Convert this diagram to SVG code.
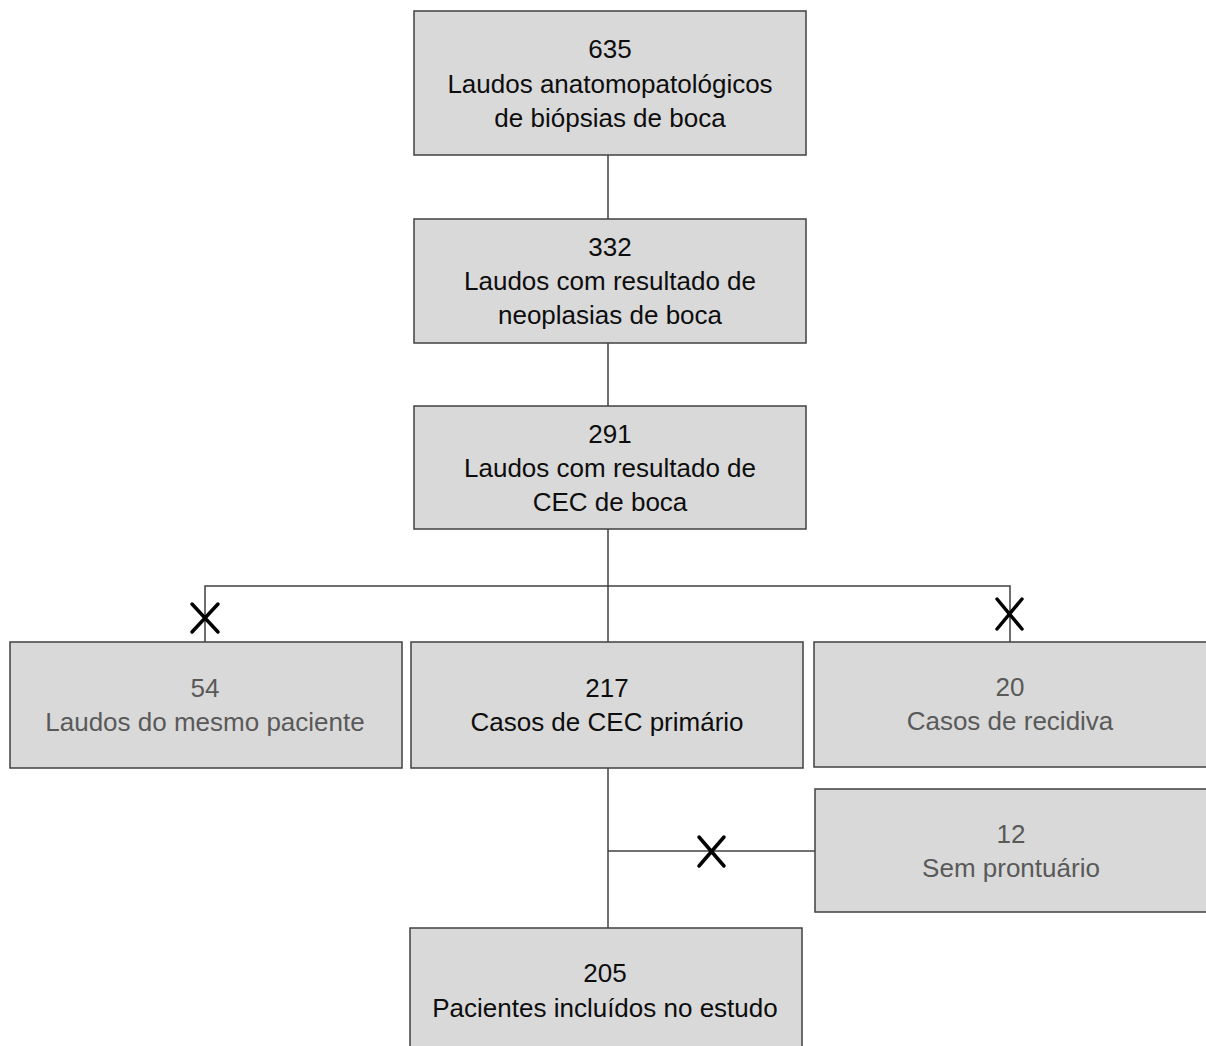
<svg xmlns="http://www.w3.org/2000/svg" width="1206" height="1046" viewBox="0 0 1206 1046">
<style>
.box{fill:#d9d9d9;stroke:#404040;stroke-width:1.5}
.t{font-family:"Liberation Sans",Arial,sans-serif;font-size:26px;text-anchor:middle;fill:#0d0d0d}
.g{fill:#595959}
.ln{stroke:#404040;stroke-width:1.5;fill:none}
.x{stroke:#000;stroke-width:3.5;stroke-linecap:round;fill:none}
</style>
<rect width="1206" height="1046" fill="#fff"/>
<g id="connectors">
<line class="ln" x1="608" y1="155" x2="608" y2="219"/>
<line class="ln" x1="608" y1="343" x2="608" y2="406"/>
<line class="ln" x1="608" y1="529" x2="608" y2="642"/>
<polyline class="ln" points="205,642 205,586 1010,586 1010,642"/>
<line class="ln" x1="608" y1="768" x2="608" y2="928"/>
<line class="ln" x1="608" y1="851" x2="815" y2="851"/>
<path class="x" d="M192,604 L218,632 M218,604 L192,632"/>
<path class="x" d="M997,599 L1022,629 M1022,599 L997,629"/>
<path class="x" d="M699,837 L724,866 M724,837 L699,866"/>
</g>
<g id="n635">
<rect class="box" x="414" y="11" width="392" height="144"/>
<text class="t" x="610" y="58">635</text>
<text class="t" x="610" y="93">Laudos anatomopatológicos</text>
<text class="t" x="610" y="127">de biópsias de boca</text>
</g>
<g id="n332">
<rect class="box" x="414" y="219" width="392" height="124"/>
<text class="t" x="610" y="256">332</text>
<text class="t" x="610" y="290">Laudos com resultado de</text>
<text class="t" x="610" y="324">neoplasias de boca</text>
</g>
<g id="n291">
<rect class="box" x="414" y="406" width="392" height="123"/>
<text class="t" x="610" y="443">291</text>
<text class="t" x="610" y="477">Laudos com resultado de</text>
<text class="t" x="610" y="511">CEC de boca</text>
</g>
<g id="n54">
<rect class="box" x="10" y="642" width="392" height="126"/>
<text class="t g" x="205" y="697">54</text>
<text class="t g" x="205" y="731">Laudos do mesmo paciente</text>
</g>
<g id="n217">
<rect class="box" x="411" y="642" width="392" height="126"/>
<text class="t" x="607" y="697">217</text>
<text class="t" x="607" y="731">Casos de CEC primário</text>
</g>
<g id="n20">
<rect class="box" x="814" y="642" width="394" height="125"/>
<text class="t g" x="1010" y="696">20</text>
<text class="t g" x="1010" y="730">Casos de recidiva</text>
</g>
<g id="n12">
<rect class="box" x="815" y="789" width="393" height="123"/>
<text class="t g" x="1011" y="843">12</text>
<text class="t g" x="1011" y="877">Sem prontuário</text>
</g>
<g id="n205">
<rect class="box" x="410" y="928" width="392" height="130"/>
<text class="t" x="605" y="982">205</text>
<text class="t" x="605" y="1017">Pacientes incluídos no estudo</text>
</g>
</svg>
